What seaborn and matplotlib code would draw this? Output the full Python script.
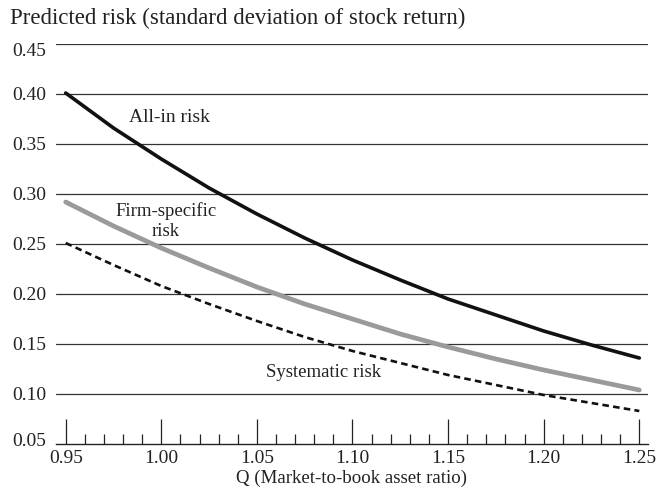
import numpy as np
import pandas as pd
import matplotlib
matplotlib.use("Agg")
import matplotlib.pyplot as plt
import matplotlib.transforms as mtransforms
from matplotlib.ticker import MultipleLocator, FixedLocator
import seaborn as sns

# ---- data ----
q_values = [0.95, 0.975, 1.00, 1.025, 1.05, 1.075, 1.10, 1.125, 1.15, 1.175, 1.20, 1.225, 1.25]
all_in_risk = [0.401, 0.366, 0.335, 0.306, 0.280, 0.256, 0.234, 0.214, 0.195, 0.179, 0.163, 0.149, 0.136]
firm_specific_risk = [0.292, 0.268, 0.246, 0.226, 0.207, 0.190, 0.175, 0.160, 0.147, 0.135, 0.124, 0.114, 0.104]
systematic_risk = [0.251, 0.229, 0.208, 0.190, 0.173, 0.157, 0.143, 0.131, 0.119, 0.109, 0.099, 0.091, 0.083]

x_ticks = [0.95, 1.00, 1.05, 1.10, 1.15, 1.20, 1.25]
x_tick_labels = ["0.95", "1.00", "1.05", "1.10", "1.15", "1.20", "1.25"]
y_ticks = [0.05, 0.10, 0.15, 0.20, 0.25, 0.30, 0.35, 0.40, 0.45]
y_tick_labels = ["0.05", "0.10", "0.15", "0.20", "0.25", "0.30", "0.35", "0.40", "0.45"]

title_text = "Predicted risk (standard deviation of stock return)"
xlabel_text = "Q (Market-to-book asset ratio)"

df = pd.DataFrame({
    "q": q_values,
    "all_in": all_in_risk,
    "firm": firm_specific_risk,
    "sys": systematic_risk,
})

sns.set_theme(style="white")
plt.rcParams["font.family"] = ["Liberation Serif", "DejaVu Serif"]
text_color = "#222222"

W, H = 657, 491
fig = plt.figure(figsize=(W / 100, H / 100), dpi=100)
ax = fig.add_axes([56 / W, 47 / H, 592 / W, 400 / H])

sns.lineplot(data=df, x="q", y="firm", ax=ax, color="#9a9a9a", linewidth=3.4,
             solid_capstyle="round", zorder=3)
sns.lineplot(data=df, x="q", y="all_in", ax=ax, color="#111111", linewidth=2.6,
             solid_capstyle="round", zorder=4)
sns.lineplot(data=df, x="q", y="sys", ax=ax, color="#111111", linewidth=1.9, zorder=4)
ax.lines[-1].set_linestyle((0, (2.5, 1.6)))

ax.set_xlim(0.94493, 1.25455)
ax.set_ylim(0.05, 0.45)

# gridlines
for yv in y_ticks[1:]:
    ax.axhline(yv, color="#333333", linewidth=0.9, zorder=1)

for s in ["left", "right", "top"]:
    ax.spines[s].set_visible(False)
ax.spines["bottom"].set_color("#222222")
ax.spines["bottom"].set_linewidth(1.0)

ax.xaxis.set_major_locator(FixedLocator(x_ticks))
ax.set_xticklabels(x_tick_labels)
ax.xaxis.set_minor_locator(MultipleLocator(0.01))
ax.tick_params(axis="x", which="major", direction="in", length=18, width=0.9,
               color="#222222", pad=4.5, labelsize=14, labelcolor=text_color,
               bottom=True)
ax.tick_params(axis="x", which="minor", direction="in", length=7.2, width=0.9,
               color="#222222", bottom=True)

ax.yaxis.set_major_locator(FixedLocator(y_ticks))
ax.set_yticklabels(y_tick_labels)
ax.tick_params(axis="y", which="both", length=0, pad=7.2, labelsize=14,
               labelcolor=text_color, left=True)

ax.set_xlabel("")
ax.set_ylabel("")

# small vertical nudges for the top and bottom y labels
labels = ax.get_yticklabels()
labels[-1].set_transform(labels[-1].get_transform() +
                         mtransforms.ScaledTranslation(0, -6 / 100, fig.dpi_scale_trans))
labels[0].set_transform(labels[0].get_transform() +
                        mtransforms.ScaledTranslation(0, 4 / 100, fig.dpi_scale_trans))

# annotations
ax.text(0.9831, 0.377, "All-in risk", fontsize=14, color=text_color,
        ha="left", va="center")
ax.text(1.0024, 0.273, "Firm-specific\nrisk", fontsize=13.5, color=text_color,
        ha="center", va="center", linespacing=1.2)
ax.text(1.085, 0.1215, "Systematic risk", fontsize=13.5, color=text_color,
        ha="center", va="center")

fig.text(10 / W, 1 - 18 / H, title_text, fontsize=16.5, color=text_color,
         ha="left", va="center")
fig.text(352 / W, 1 - 478 / H, xlabel_text, fontsize=13.6, color=text_color,
         ha="center", va="center")

fig.savefig("out.png", dpi=100)
